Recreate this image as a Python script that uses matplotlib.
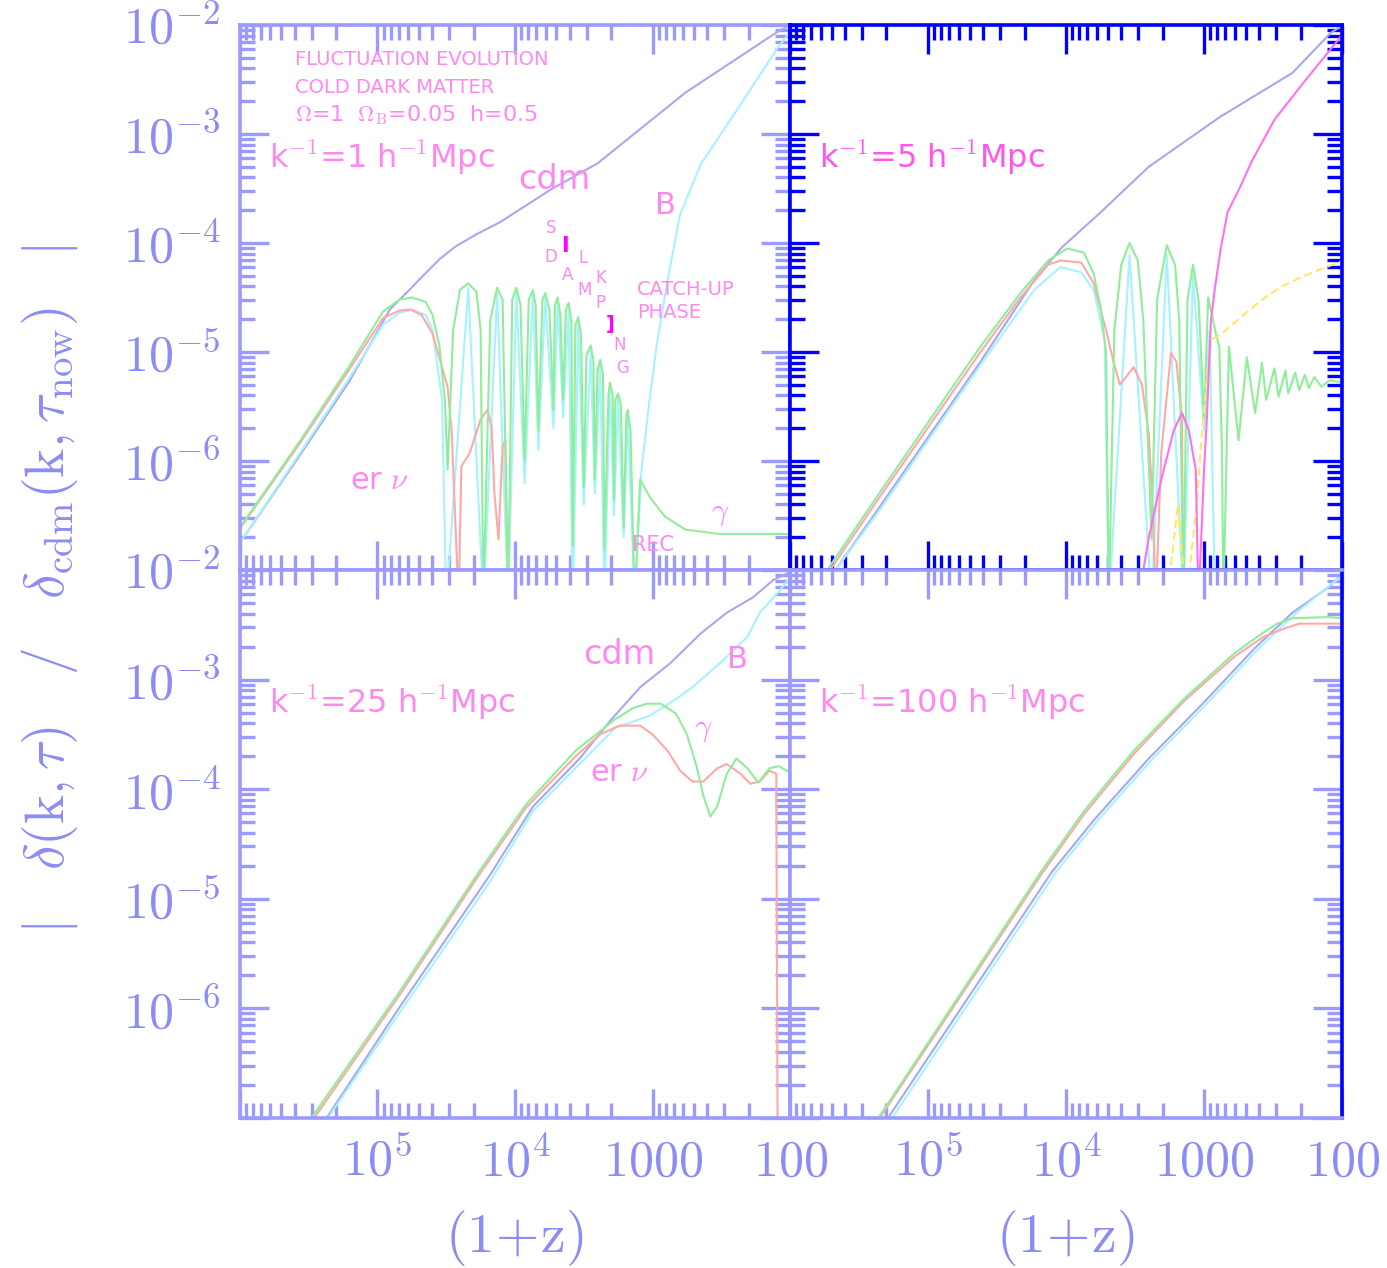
import numpy as np
import matplotlib.pyplot as plt
from matplotlib.ticker import LogLocator, NullFormatter

plt.rcParams['mathtext.fontset'] = 'cm'

# all curves: log10(1+z) and log10|delta|
# ---- k^-1 = 1 h^-1 Mpc (top left)
tl_cdm_lz = [6.00, 5.56, 5.20, 4.91, 4.76, 4.66, 4.55, 4.43, 4.28, 4.11, 3.74, 3.40, 2.76, 2.10, 2.00]
tl_cdm_ld = [-6.75, -5.94, -5.26, -4.61, -4.42, -4.29, -4.15, -4.03, -3.92, -3.81, -3.51, -3.27, -2.62, -2.07, -2.00]

tl_gam_lz = [6.00, 5.56, 5.20, 4.96, 4.84, 4.75, 4.65, 4.60, 4.55, 4.51, 4.49,
             4.45, 4.40, 4.34, 4.28, 4.25, 4.23, 4.18, 4.13, 4.09, 4.05,
             4.02, 3.99, 3.96, 3.93, 3.90, 3.87, 3.85, 3.83, 3.80, 3.78, 3.75, 3.72,
             3.71, 3.69, 3.67, 3.65, 3.63, 3.61, 3.59, 3.58, 3.56, 3.54, 3.52, 3.50,
             3.48, 3.45, 3.43, 3.42, 3.40, 3.38, 3.36, 3.35, 3.32, 3.31, 3.29, 3.28,
             3.27, 3.25, 3.23, 3.21, 3.19, 3.18, 3.16, 3.13, 3.09, 3.02, 2.91, 2.76,
             2.51, 2.00]
tl_gam_ld = [-6.61, -5.81, -5.12, -4.63, -4.52, -4.50, -4.54, -4.66, -4.94, -5.44, -6.08,
             -4.80, -4.43, -4.37, -4.45, -4.80, -7.30, -4.71, -4.41, -4.52, -7.30,
             -4.52, -4.41, -4.57, -5.99, -4.52, -4.43, -4.57, -5.72, -4.52, -4.46, -4.61, -5.53,
             -4.57, -4.50, -4.66, -5.44, -4.61, -4.55, -4.71, -6.77, -4.75, -4.68, -4.84, -6.24,
             -5.03, -4.94, -5.07, -6.17, -5.17, -5.07, -5.21, -6.82, -5.38, -5.28, -5.39, -6.36,
             -5.44, -5.38, -5.49, -6.61, -5.58, -5.53, -5.72, -7.30, -6.17, -6.33, -6.51, -6.63,
             -6.67, -6.67]

tl_nu_lz = [6.00, 5.56, 5.20, 4.96, 4.84, 4.76, 4.68, 4.60, 4.49, 4.46, 4.41,
            4.39, 4.33, 4.25, 4.20, 4.17, 4.15, 4.12, 4.09, 4.07, 4.05]
tl_nu_ld = [-6.62, -5.83, -5.15, -4.69, -4.62, -4.61, -4.66, -4.83, -5.32, -5.74, -7.30,
            -6.05, -5.93, -5.62, -5.53, -5.69, -6.29, -6.72, -5.87, -5.81, -7.30]

tl_bar_lz = [6.00, 5.56, 5.20, 4.96, 4.84, 4.75, 4.65, 4.60, 4.53, 4.50,
             4.34, 4.23, 4.13, 4.05, 3.99, 3.93, 3.87, 3.83, 3.78, 3.72, 3.69, 3.65,
             3.61, 3.58, 3.54, 3.50, 3.45, 3.42, 3.38, 3.35, 3.31, 3.28, 3.25, 3.21,
             3.18, 3.13, 3.08, 3.03, 2.97, 2.89, 2.80, 2.65, 2.36, 2.10, 2.00]
tl_bar_ld = [-6.75, -5.92, -5.23, -4.75, -4.64, -4.61, -4.66, -4.80, -5.44, -7.30,
             -4.42, -7.30, -4.46, -7.30, -4.46, -6.20, -4.48, -5.90, -4.51, -5.70, -4.55, -5.60,
             -4.60, -7.30, -4.73, -6.40, -4.99, -6.30, -5.12, -7.30, -5.33, -6.50, -5.43, -6.70,
             -5.58, -7.30, -6.08, -5.53, -4.94, -4.34, -3.74, -3.28, -2.73, -2.23, -2.06]

# ---- k^-1 = 5 h^-1 Mpc (top right)
tr_cdm_lz = [5.67, 5.35, 4.62, 4.23, 4.03, 3.75, 3.40, 2.88, 2.36, 2.08, 1.99]
tr_cdm_ld = [-7.00, -6.42, -5.09, -4.34, -4.04, -3.72, -3.30, -2.84, -2.44, -2.07, -2.00]

tr_gam_lz = [5.73, 5.35, 4.62, 4.33, 4.13, 3.99, 3.87, 3.80, 3.75, 3.71, 3.69,
             3.65, 3.60, 3.54, 3.48, 3.44, 3.38, 3.34, 3.27, 3.21, 3.18, 3.15,
             3.12, 3.08, 3.04, 3.00, 2.97, 2.92, 2.89, 2.87, 2.86, 2.82, 2.75, 2.69,
             2.63, 2.58, 2.55, 2.49, 2.46, 2.41, 2.39, 2.34, 2.31, 2.27, 2.24, 2.20,
             2.15, 2.09, 1.99]
tr_gam_ld = [-7.00, -6.29, -4.95, -4.46, -4.16, -4.05, -4.09, -4.28, -4.59, -5.01, -7.30,
             -4.80, -4.20, -4.00, -4.16, -4.71, -6.72, -4.52, -4.02, -4.20, -4.71, -7.30,
             -4.52, -4.20, -4.52, -5.62, -4.50, -4.80, -4.95, -5.90, -7.30, -4.95, -5.81, -5.05,
             -5.56, -5.10, -5.44, -5.15, -5.41, -5.17, -5.38, -5.19, -5.35, -5.21, -5.33, -5.23,
             -5.32, -5.26, -5.28]

tr_nu_lz = [5.71, 5.35, 4.62, 4.33, 4.13, 4.04, 3.89, 3.80, 3.71, 3.66, 3.61,
            3.51, 3.45, 3.40, 3.37, 3.35, 3.31, 3.24, 3.20, 3.16, 3.15]
tr_nu_ld = [-7.00, -6.33, -5.00, -4.50, -4.20, -4.16, -4.18, -4.37, -4.80, -5.07, -5.30,
            -5.14, -5.30, -5.76, -6.48, -7.30, -5.93, -5.01, -5.09, -5.62, -7.30]

tr_bar_lz = [5.67, 5.35, 4.62, 4.23, 4.04, 3.89, 3.80, 3.72, 3.69, 3.54, 3.38,
             3.27, 3.15, 3.08, 3.00, 2.96, 2.92]
tr_bar_ld = [-7.00, -6.45, -5.12, -4.43, -4.22, -4.27, -4.43, -4.89, -7.30, -4.11, -7.30,
             -4.11, -7.30, -4.29, -5.72, -4.80, -7.30]

tr_mag_lz = [3.48, 3.40, 3.31, 3.22, 3.16, 3.11, 3.06, 3.04, 3.00, 2.98, 2.97, 2.95,
             2.92, 2.88, 2.83, 2.74, 2.65, 2.49, 2.28, 2.03, 1.99]
tr_mag_ld = [-7.30, -6.70, -6.17, -5.72, -5.56, -5.72, -6.08, -7.30, -6.08, -5.62, -5.32, -4.71,
             -4.40, -4.06, -3.72, -3.49, -3.24, -2.87, -2.53, -2.14, -2.07]

tr_yel_lz = [3.27, 3.19, 3.13, 3.05, 3.02, 2.98, 2.95, 2.87, 2.76, 2.58, 2.44, 2.29, 2.17, 1.99]
tr_yel_ld = [-7.30, -6.40, -7.30, -6.36, -5.81, -5.26, -4.89, -4.83, -4.71, -4.52, -4.40,
             -4.31, -4.25, -4.16]

# ---- k^-1 = 25 h^-1 Mpc (bottom left)
bl_cdm_lz = [5.37, 4.84, 4.18, 3.87, 3.53, 3.31, 3.09, 2.87, 2.65, 2.46, 2.27, 2.12, 2.00]
bl_cdm_ld = [-7.00, -5.99, -4.78, -4.16, -3.72, -3.38, -3.07, -2.85, -2.58, -2.39, -2.25, -2.09, -2.02]

bl_gam_lz = [5.48, 4.84, 4.26, 3.92, 3.56, 3.27, 3.14, 3.04, 2.94, 2.83, 2.75, 2.68,
             2.63, 2.58, 2.53, 2.46, 2.39, 2.31, 2.23, 2.15, 2.08, 2.00]
bl_gam_ld = [-7.00, -5.85, -4.75, -4.14, -3.65, -3.36, -3.26, -3.22, -3.22, -3.31, -3.50, -3.79,
             -4.06, -4.25, -4.16, -3.86, -3.72, -3.81, -3.94, -3.81, -3.79, -3.85]

bl_nu_lz = [5.46, 4.84, 4.26, 3.92, 3.56, 3.38, 3.24, 3.09, 3.00, 2.89, 2.80, 2.71,
            2.63, 2.53, 2.46, 2.36, 2.29, 2.22, 2.15, 2.10, 2.09]
bl_nu_ld = [-7.00, -5.88, -4.78, -4.17, -3.70, -3.50, -3.42, -3.42, -3.50, -3.65, -3.83, -3.93,
            -3.93, -3.81, -3.77, -3.86, -3.95, -3.93, -3.83, -3.86, -7.30]

bl_bar_lz = [5.36, 4.84, 4.18, 3.87, 3.53, 3.27, 3.02, 2.82, 2.71, 2.51, 2.31, 2.22, 2.07, 2.00]
bl_bar_ld = [-7.00, -6.04, -4.84, -4.20, -3.77, -3.44, -3.33, -3.17, -3.07, -2.85, -2.61, -2.39, -2.18, -2.07]

# ---- k^-1 = 100 h^-1 Mpc (bottom right)
br_cdm_lz = [5.29, 4.10, 3.79, 3.40, 3.01, 2.63, 2.36, 2.10, 1.99]
br_cdm_ld = [-7.00, -4.75, -4.27, -3.72, -3.22, -2.71, -2.39, -2.16, -2.03]

br_gam_lz = [5.36, 4.18, 3.87, 3.51, 3.14, 2.78, 2.57, 2.47, 2.36, 2.10, 1.99]
br_gam_ld = [-7.00, -4.75, -4.20, -3.65, -3.17, -2.76, -2.57, -2.49, -2.44, -2.43, -2.44]

br_nu_lz = [5.35, 4.18, 3.87, 3.51, 3.14, 2.78, 2.57, 2.41, 2.31, 1.99]
br_nu_ld = [-7.00, -4.78, -4.23, -3.68, -3.19, -2.79, -2.61, -2.53, -2.49, -2.49]

br_bar_lz = [5.26, 4.07, 3.76, 3.37, 2.98, 2.60, 2.33, 2.07, 1.99]
br_bar_ld = [-7.00, -4.75, -4.27, -3.72, -3.22, -2.71, -2.39, -2.12, -2.05]

panel_labels = [r"k$^{-1}$=1 h$^{-1}$Mpc", r"k$^{-1}$=5 h$^{-1}$Mpc",
                r"k$^{-1}$=25 h$^{-1}$Mpc", r"k$^{-1}$=100 h$^{-1}$Mpc"]
ytick_vals = [1e-7, 1e-6, 1e-5, 1e-4, 1e-3, 1e-2]
ytick_top = [r"$10^{-2}$", r"$10^{-6}$", r"$10^{-5}$", r"$10^{-4}$", r"$10^{-3}$", r"$10^{-2}$"]
ytick_bot = ["", r"$10^{-6}$", r"$10^{-5}$", r"$10^{-4}$", r"$10^{-3}$", ""]
xtick_vals = [1e6, 1e5, 1e4, 1e3, 1e2]
xtick_labels = ["", r"$10^5$", r"$10^4$", r"$1000$", r"$100$"]

LAV = "#9a9aff"
BLUE = "#0000ff"
TXT = "#8c8cf5"
PINK = "#ff88ee"
C_CDM, C_GAM, C_NU, C_BAR = "#a8a8ee", "#8fee9a", "#ffa8a8", "#a6f2ff"
C_MAG, C_YEL = "#ff70ee", "#ffe866"


def curve(ax, lz, ld, color, lw=1.5, ls="-"):
    ax.plot(10 ** np.array(lz), 10 ** np.array(ld), color=color, lw=lw, ls=ls,
            solid_joinstyle="round")


def style(ax, spine_col, right_col, ylabels, xlabels):
    ax.set_xscale("log")
    ax.set_yscale("log")
    ax.set_xlim(1e6, 1e2)
    ax.set_ylim(1e-7, 1e-2)
    ax.set_yticks(ytick_vals)
    ax.set_xticks(xtick_vals)
    ax.yaxis.set_minor_locator(LogLocator(base=10, subs=np.arange(2, 10), numticks=20))
    ax.xaxis.set_minor_locator(LogLocator(base=10, subs=np.arange(2, 10), numticks=20))
    ax.yaxis.set_minor_formatter(NullFormatter())
    ax.xaxis.set_minor_formatter(NullFormatter())
    if ylabels is None:
        ax.set_yticklabels([])
    else:
        ax.set_yticklabels(ylabels)
    if xlabels:
        ax.set_xticklabels(xtick_labels)
    else:
        ax.set_xticklabels([])
    ax.tick_params(which="both", direction="in", top=True, right=True,
                   color=spine_col, labelcolor=TXT, labelsize=36, width=2.4)
    ax.tick_params(which="major", length=21, pad=14)
    ax.tick_params(which="minor", length=11)
    for s in ax.spines.values():
        s.set_color(spine_col)
        s.set_linewidth(2.6)
    if right_col is not None:
        ax.spines["right"].set_color(right_col)
        for t in ax.yaxis.get_major_ticks() + ax.yaxis.get_minor_ticks():
            t.tick2line.set_color(right_col)


fig = plt.figure(figsize=(13.87, 12.68), dpi=100)
ax_tl = fig.add_axes([0.1730, 0.5505, 0.3966, 0.4298])
ax_tr = fig.add_axes([0.5696, 0.5505, 0.3980, 0.4298])
ax_bl = fig.add_axes([0.1730, 0.1183, 0.3966, 0.4322])
ax_br = fig.add_axes([0.5696, 0.1183, 0.3980, 0.4322])

# top left
curve(ax_tl, tl_cdm_lz, tl_cdm_ld, C_CDM)
curve(ax_tl, tl_bar_lz, tl_bar_ld, C_BAR)
curve(ax_tl, tl_nu_lz, tl_nu_ld, C_NU)
curve(ax_tl, tl_gam_lz, tl_gam_ld, C_GAM)
# top right
curve(ax_tr, tr_cdm_lz, tr_cdm_ld, C_CDM)
curve(ax_tr, tr_bar_lz, tr_bar_ld, C_BAR)
curve(ax_tr, tr_nu_lz, tr_nu_ld, C_NU)
curve(ax_tr, tr_gam_lz, tr_gam_ld, C_GAM)
curve(ax_tr, tr_yel_lz, tr_yel_ld, C_YEL, ls=(0, (4, 2)))
curve(ax_tr, tr_mag_lz, tr_mag_ld, C_MAG)
# bottom left
curve(ax_bl, bl_cdm_lz, bl_cdm_ld, C_CDM)
curve(ax_bl, bl_bar_lz, bl_bar_ld, C_BAR)
curve(ax_bl, bl_nu_lz, bl_nu_ld, C_NU)
curve(ax_bl, bl_gam_lz, bl_gam_ld, C_GAM)
# bottom right
curve(ax_br, br_cdm_lz, br_cdm_ld, C_CDM)
curve(ax_br, br_bar_lz, br_bar_ld, C_BAR)
curve(ax_br, br_nu_lz, br_nu_ld, C_NU)
curve(ax_br, br_gam_lz, br_gam_ld, C_GAM)

style(ax_tl, LAV, BLUE, ytick_top, False)
style(ax_tr, BLUE, None, None, False)
style(ax_bl, LAV, None, ytick_bot, True)
style(ax_br, LAV, BLUE, None, True)


def note(ax, x, y, s, size=22, ha="left", color=PINK, **extra):
    ax.text(x, y, s, fontsize=size, ha=ha, va="center", color=color,
            family="DejaVu Sans", transform=ax.transAxes, **extra)


label_cols = [PINK, "#ff55ee", PINK, PINK]
for ax, lab, col in zip([ax_tl, ax_tr, ax_bl, ax_br], panel_labels, label_cols):
    note(ax, 0.052, 0.757, lab, size=23, color=col)

note(ax_tl, 0.100, 0.936, "FLUCTUATION EVOLUTION", size=14)
note(ax_tl, 0.100, 0.885, "COLD DARK MATTER", size=14)
note(ax_tl, 0.100, 0.834, r"$\Omega$=1  $\Omega_{\rm B}$=0.05  h=0.5", size=16)
note(ax_tl, 0.505, 0.716, "cdm", size=24)
note(ax_tl, 0.773, 0.668, "B", size=22, ha="center")
for ch, x, y in [("S", 0.565, 0.628), ("L", 0.624, 0.572), ("K", 0.656, 0.536),
                 ("D", 0.565, 0.574), ("A", 0.595, 0.541), ("M", 0.627, 0.514),
                 ("P", 0.656, 0.490), ("N", 0.691, 0.413), ("G", 0.695, 0.371)]:
    note(ax_tl, x, y, ch, size=12, ha="center")
note(ax_tl, 0.591, 0.595, "I", size=15, ha="center", color="#ff00ff", fontweight="bold")
note(ax_tl, 0.673, 0.450, "]", size=14, ha="center", color="#ff00ff", fontweight="bold")
note(ax_tl, 0.722, 0.514, "CATCH-UP", size=14)
note(ax_tl, 0.722, 0.472, "PHASE", size=14)
note(ax_tl, 0.200, 0.165, r"er $\nu$", size=22)
note(ax_tl, 0.873, 0.103, r"$\gamma$", size=22, ha="center")
note(ax_tl, 0.713, 0.046, "REC", size=15)

note(ax_bl, 0.624, 0.845, "cdm", size=24)
note(ax_bl, 0.904, 0.836, "B", size=22, ha="center")
note(ax_bl, 0.842, 0.708, r"$\gamma$", size=22, ha="center")
note(ax_bl, 0.636, 0.631, r"er $\nu$", size=22)

fig.text(0.036, 0.535,
         r"$|\quad\delta({\rm k},\tau)\quad/\quad\delta_{\rm cdm}({\rm k},\tau_{\rm now})\quad|$",
         rotation=90, ha="center", va="center", fontsize=40, color=TXT)
fig.text(0.371, 0.024, r"$(1\!+\!{\rm z})$", ha="center", va="center", fontsize=40, color=TXT)
fig.text(0.768, 0.024, r"$(1\!+\!{\rm z})$", ha="center", va="center", fontsize=40, color=TXT)

fig.savefig("out.png", dpi=100)
